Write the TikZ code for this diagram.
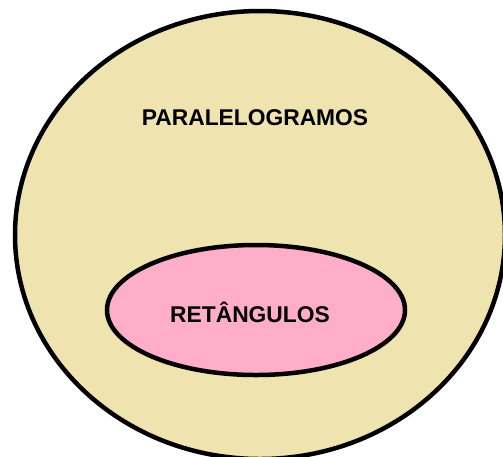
\documentclass[tikz,border=0pt]{standalone}
\usepackage{fontspec}
\setmainfont{Liberation Sans}
\definecolor{tan}{HTML}{EFE4B0}
\definecolor{rose}{HTML}{FFAEC9}
\tikzset{
  setline/.style={draw=black, line width=4.5pt},
  lbl/.style={font=\fontsize{22.8}{26}\selectfont\bfseries, text=black, inner sep=0pt}
}
\begin{document}
\begin{tikzpicture}[x=1pt,y=-1pt]
\useasboundingbox (0,0) rectangle (503,456);
\fill[white] (0,0) rectangle (503,456);
\begin{scope}
\clip (0,0) rectangle (503,456);
\draw[setline, fill=tan] (260,235) ellipse [x radius=245, y radius=224];
\end{scope}
\draw[setline, fill=rose] (256,310) ellipse [x radius=149, y radius=65];
\node[lbl] (par) at (255,118) {PARALELOGRAMOS};
\node[lbl] (ret) at (250,312) {RETÂNGULOS};
\end{tikzpicture}
\end{document}
